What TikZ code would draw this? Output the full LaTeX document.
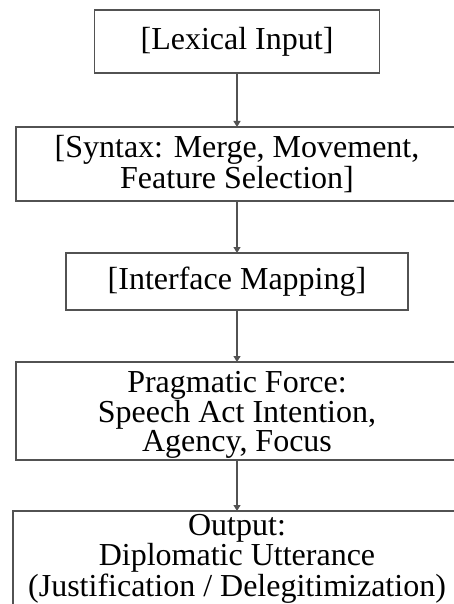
\documentclass[tikz,border=0pt]{standalone}
\usepackage{fontspec}
\setmainfont{Liberation Serif}
\usepackage{tikz}
\usetikzlibrary{positioning, arrows.meta}

\begin{document}
\begin{tikzpicture}[node distance=52pt, >={Triangle[width=7pt,length=6pt]},
    box/.style={draw=black!68, line width=1.3pt, inner sep=0pt, outer sep=0pt,
        align=center, text=black, font=\fontsize{32}{26.5}\selectfont},
    flow/.style={->, draw=black!68, line width=1.2pt}]
    \useasboundingbox (0,0) rectangle (454pt,-604pt);

    % Stages
    \node (lex) [box, minimum width=285pt, minimum height=63pt] at (237pt,-41.5pt) {[Lexical Input]};
    \node (syn) [box, minimum width=442pt, minimum height=74pt, below=54pt of lex] {[Syntax: Merge, Movement,\\Feature Selection]};
    \node (intf) [box, minimum width=342pt, minimum height=57pt, below=of syn] {[Interface Mapping]};
    \node (prag) [box, minimum width=442pt, minimum height=98pt, below=of intf] {\rule{0pt}{28pt}Pragmatic Force:\\Speech Act Intention,\\Agency, Focus};
    % last box runs past the bottom edge
    \node (out) [box, minimum width=448pt, minimum height=96pt, below=51pt of prag] {Output:\\Diplomatic Utterance\\(Justification / Delegitimization)};

    % Arrows
    \draw[flow] (lex) -- (syn);
    \draw[flow] (syn) -- (intf);
    \draw[flow] (intf) -- (prag);
    \draw[flow] (prag) -- (out);
\end{tikzpicture}
\end{document}
